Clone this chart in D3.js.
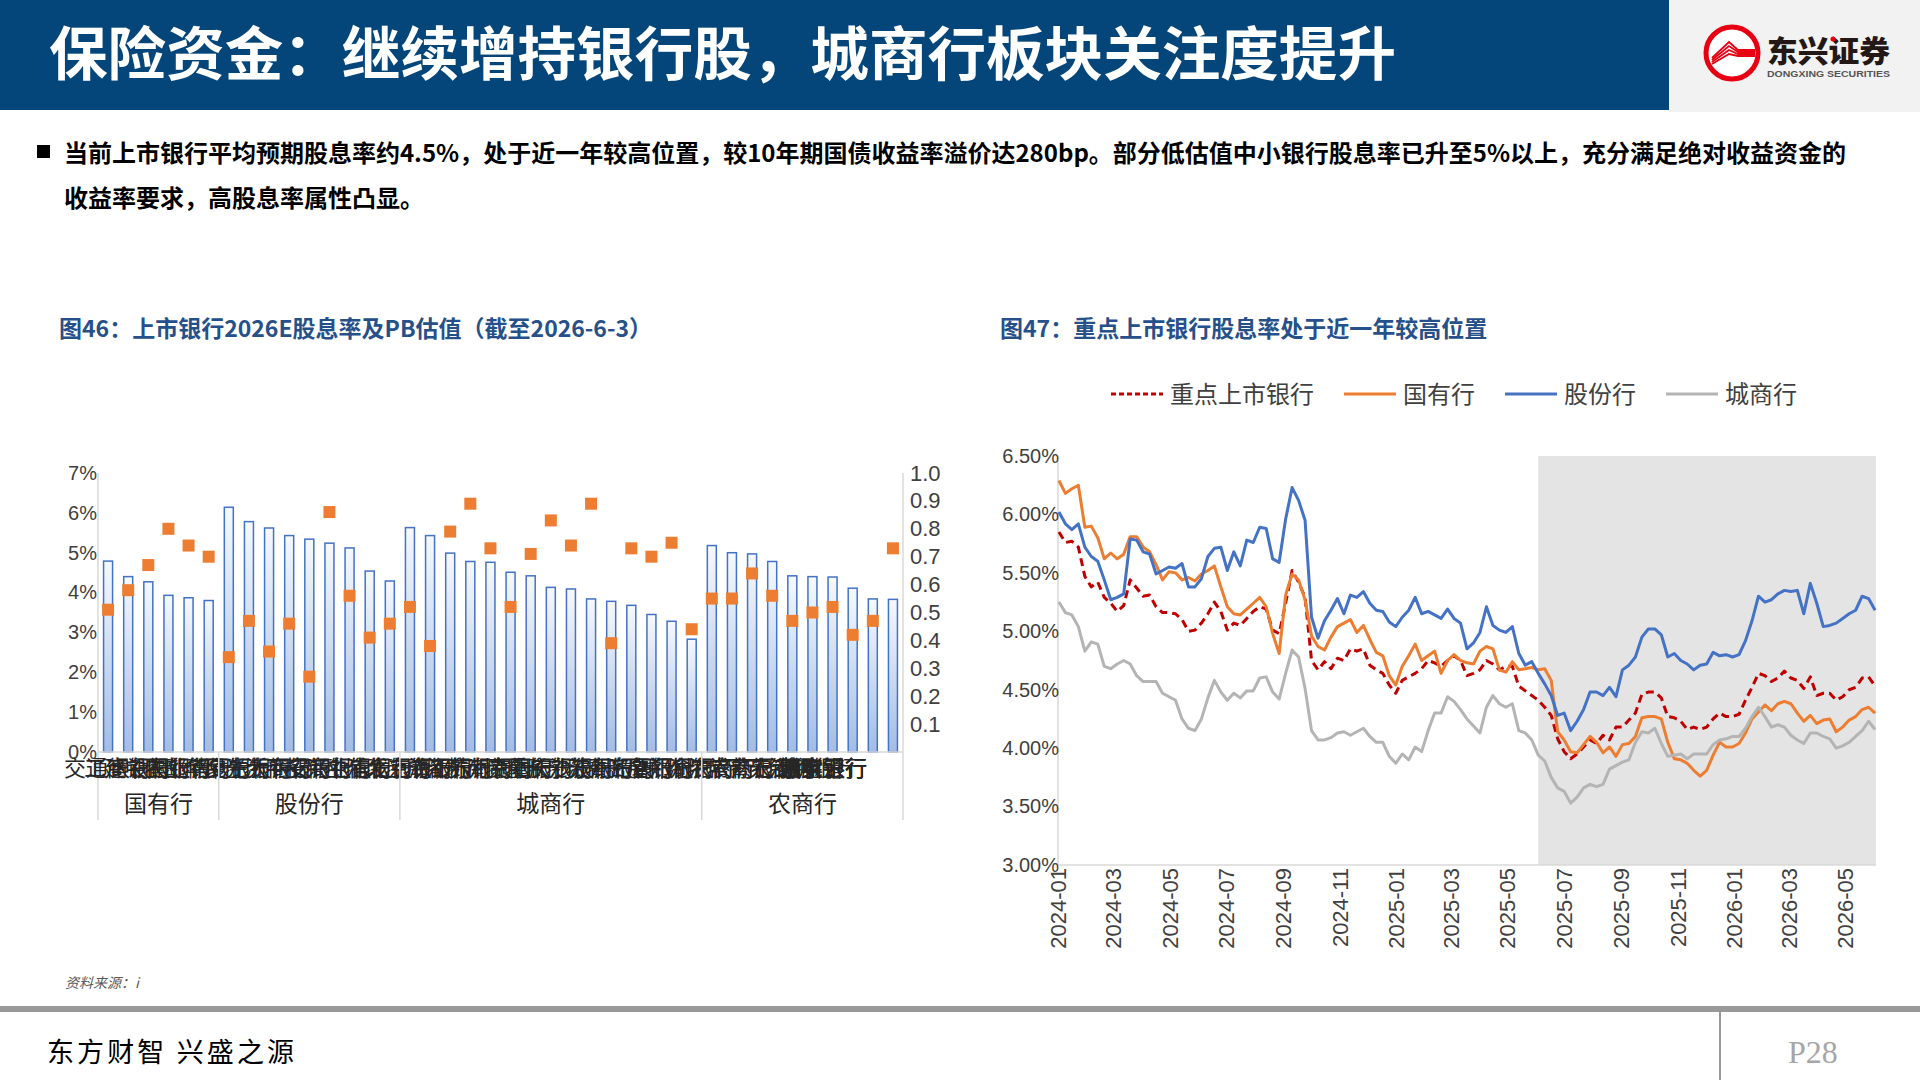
<!DOCTYPE html>
<html>
<head>
<meta charset="utf-8">
<script src="https://cdn.jsdelivr.net/npm/d3@7"></script>
<style>
  body { margin: 0; background: #fff; }
  svg { display: block; }
</style>
</head>
<body>
<svg id="page" width="1920" height="1080"></svg>
<script>
// ---- left chart: 2026E dividend yield (bars, left axis) and PB (squares, right axis)
const groups = ["国有行", "股份行", "城商行", "农商行"];
const groupSizes = [6, 9, 15, 10];
const banks = [
  "交通银行", "工商银行", "建设银行", "中国银行", "农业银行", "邮储银行",
  "华夏银行", "民生银行", "光大银行", "浙商银行", "平安银行", "招商银行", "兴业银行", "中信银行", "浦发银行",
  "北京银行", "上海银行", "成都银行", "江苏银行", "杭州银行", "南京银行", "贵阳银行", "重庆银行",
  "长沙银行", "宁波银行", "苏州银行", "青岛银行", "齐鲁银行", "厦门银行", "郑州银行",
  "渝农商行", "沪农商行", "常熟银行", "青农商行", "无锡银行", "江阴银行", "张家港行", "苏农银行", "紫金银行", "瑞丰银行"
];
const dividendYield = [
  4.79, 4.40, 4.27, 3.93, 3.87, 3.80,
  6.14, 5.78, 5.62, 5.43, 5.34, 5.24, 5.12, 4.54, 4.29,
  5.63, 5.43, 4.99, 4.78, 4.76, 4.51, 4.42, 4.13, 4.09, 3.84, 3.78, 3.68, 3.45, 3.28, 2.83,
  5.18, 5.00, 4.97, 4.78, 4.42, 4.40, 4.39, 4.11, 3.84, 3.83
];
const pbValue = [
  0.51, 0.58, 0.67, 0.80, 0.74, 0.70,
  0.34, 0.47, 0.36, 0.46, 0.27, 0.86, 0.56, 0.41, 0.46,
  0.52, 0.38, 0.79, 0.89, 0.73, 0.52, 0.71, 0.83, 0.74, 0.89, 0.39, 0.73, 0.70, 0.75, 0.44,
  0.55, 0.55, 0.64, 0.56, 0.47, 0.50, 0.52, 0.42, 0.47, 0.73
];
const yieldTicks = [0, 1, 2, 3, 4, 5, 6, 7];
const pbTicks = [0.1, 0.2, 0.3, 0.4, 0.5, 0.6, 0.7, 0.8, 0.9, 1.0];

// ---- right chart: weekly dividend yield (%) of listed banks
const dates = [
  "2024-01-02","2024-01-09","2024-01-16","2024-01-23","2024-01-30","2024-02-06","2024-02-13","2024-02-20","2024-02-27","2024-03-05",
  "2024-03-12","2024-03-19","2024-03-26","2024-04-02","2024-04-09","2024-04-16","2024-04-23","2024-04-30","2024-05-07","2024-05-14",
  "2024-05-21","2024-05-28","2024-06-04","2024-06-11","2024-06-18","2024-06-25","2024-07-02","2024-07-09","2024-07-16","2024-07-23",
  "2024-07-30","2024-08-06","2024-08-13","2024-08-20","2024-08-27","2024-09-03","2024-09-10","2024-09-17","2024-09-24","2024-10-01",
  "2024-10-08","2024-10-15","2024-10-22","2024-10-29","2024-11-05","2024-11-12","2024-11-19","2024-11-26","2024-12-03","2024-12-10",
  "2024-12-17","2024-12-24","2024-12-31","2025-01-07","2025-01-14","2025-01-21","2025-01-28","2025-02-04","2025-02-11","2025-02-18",
  "2025-02-25","2025-03-04","2025-03-11","2025-03-18","2025-03-25","2025-04-01","2025-04-08","2025-04-15","2025-04-22","2025-04-29",
  "2025-05-06","2025-05-13","2025-05-20","2025-05-27","2025-06-03","2025-06-10","2025-06-17","2025-06-24","2025-07-01","2025-07-08",
  "2025-07-15","2025-07-22","2025-07-29","2025-08-05","2025-08-12","2025-08-19","2025-08-26","2025-09-02","2025-09-09","2025-09-16",
  "2025-09-23","2025-09-30","2025-10-07","2025-10-14","2025-10-21","2025-10-28","2025-11-04","2025-11-11","2025-11-18","2025-11-25",
  "2025-12-02","2025-12-09","2025-12-16","2025-12-23","2025-12-30","2026-01-06","2026-01-13","2026-01-20","2026-01-27","2026-02-03",
  "2026-02-10","2026-02-17","2026-02-24","2026-03-03","2026-03-10","2026-03-17","2026-03-24","2026-03-31","2026-04-07","2026-04-14",
  "2026-04-21","2026-04-28","2026-05-05","2026-05-12","2026-05-19","2026-05-26","2026-06-02"
];
const keyBanks = [
  5.85, 5.76, 5.77, 5.72, 5.47, 5.38, 5.42, 5.29, 5.24, 5.17,
  5.22, 5.44, 5.37, 5.30, 5.31, 5.21, 5.16, 5.16, 5.15, 5.10,
  5.00, 5.01, 5.07, 5.15, 5.25, 5.17, 5.01, 5.07, 5.05, 5.11,
  5.17, 5.21, 5.19, 5.01, 4.98, 5.24, 5.52, 5.42, 5.29, 4.75,
  4.67, 4.74, 4.68, 4.77, 4.75, 4.85, 4.83, 4.85, 4.71, 4.67,
  4.64, 4.54, 4.47, 4.58, 4.61, 4.64, 4.68, 4.75, 4.73, 4.70,
  4.75, 4.79, 4.75, 4.62, 4.64, 4.67, 4.75, 4.72, 4.67, 4.70,
  4.70, 4.53, 4.49, 4.45, 4.41, 4.35, 4.28, 4.08, 3.97, 3.91,
  3.95, 4.01, 4.07, 4.04, 4.11, 4.07, 4.18, 4.18, 4.24, 4.30,
  4.46, 4.48, 4.48, 4.43, 4.27, 4.26, 4.23, 4.16, 4.18, 4.16,
  4.18, 4.25, 4.30, 4.27, 4.27, 4.29, 4.41, 4.52, 4.64, 4.62,
  4.57, 4.60, 4.66, 4.60, 4.58, 4.51, 4.61, 4.45, 4.47, 4.47,
  4.41, 4.44, 4.50, 4.52, 4.60, 4.61, 4.53
];
const stateOwned = [
  6.29, 6.18, 6.22, 6.25, 5.89, 5.90, 5.80, 5.62, 5.67, 5.62,
  5.66, 5.81, 5.81, 5.72, 5.68, 5.57, 5.44, 5.51, 5.50, 5.44,
  5.46, 5.43, 5.49, 5.52, 5.56, 5.38, 5.21, 5.15, 5.14, 5.19,
  5.24, 5.29, 5.21, 4.98, 4.81, 5.31, 5.49, 5.44, 5.27, 4.96,
  4.87, 4.84, 4.95, 5.04, 5.07, 5.10, 4.99, 5.05, 4.93, 4.82,
  4.79, 4.62, 4.54, 4.70, 4.79, 4.89, 4.75, 4.79, 4.83, 4.64,
  4.75, 4.80, 4.75, 4.73, 4.72, 4.83, 4.87, 4.85, 4.67, 4.65,
  4.74, 4.67, 4.68, 4.69, 4.67, 4.68, 4.58, 4.14, 4.07, 3.97,
  3.96, 4.03, 4.10, 4.05, 3.96, 4.01, 3.93, 4.03, 4.04, 4.10,
  4.26, 4.27, 4.27, 4.25, 4.05, 3.91, 3.90, 3.87, 3.81, 3.76,
  3.81, 3.94, 4.05, 4.01, 4.01, 4.04, 4.13, 4.25, 4.31, 4.37,
  4.32, 4.38, 4.40, 4.38, 4.30, 4.23, 4.28, 4.21, 4.24, 4.25,
  4.14, 4.18, 4.24, 4.27, 4.33, 4.35, 4.30
];
const jointStock = [
  6.02, 5.92, 5.87, 5.92, 5.72, 5.64, 5.60, 5.44, 5.27, 5.29,
  5.32, 5.79, 5.78, 5.68, 5.66, 5.49, 5.52, 5.55, 5.54, 5.58,
  5.38, 5.38, 5.45, 5.64, 5.71, 5.72, 5.52, 5.68, 5.56, 5.78,
  5.76, 5.89, 5.88, 5.62, 5.59, 5.96, 6.23, 6.12, 5.95, 5.12,
  4.94, 5.09, 5.18, 5.28, 5.15, 5.31, 5.29, 5.34, 5.24, 5.18,
  5.17, 5.08, 5.04, 5.12, 5.18, 5.29, 5.15, 5.17, 5.14, 5.11,
  5.19, 5.11, 5.07, 4.85, 4.90, 4.99, 5.21, 5.05, 5.01, 4.99,
  5.04, 4.81, 4.71, 4.74, 4.64, 4.55, 4.45, 4.28, 4.30, 4.15,
  4.23, 4.33, 4.48, 4.48, 4.45, 4.52, 4.44, 4.67, 4.71, 4.78,
  4.95, 5.02, 5.02, 4.97, 4.78, 4.81, 4.75, 4.72, 4.67, 4.71,
  4.72, 4.82, 4.79, 4.80, 4.78, 4.80, 4.92, 5.09, 5.30, 5.25,
  5.27, 5.32, 5.35, 5.34, 5.35, 5.15, 5.41, 5.24, 5.04, 5.05,
  5.07, 5.11, 5.15, 5.18, 5.30, 5.28, 5.18
];
const cityBanks = [
  5.25, 5.16, 5.14, 5.04, 4.83, 4.91, 4.89, 4.70, 4.68, 4.72,
  4.75, 4.72, 4.62, 4.57, 4.57, 4.57, 4.47, 4.44, 4.41, 4.25,
  4.17, 4.15, 4.25, 4.43, 4.58, 4.48, 4.41, 4.47, 4.43, 4.49,
  4.49, 4.60, 4.61, 4.48, 4.42, 4.64, 4.84, 4.78, 4.51, 4.15,
  4.07, 4.07, 4.09, 4.13, 4.14, 4.11, 4.14, 4.17, 4.10, 4.05,
  4.05, 3.93, 3.87, 3.95, 3.90, 4.01, 3.97, 4.15, 4.30, 4.30,
  4.44, 4.40, 4.33, 4.25, 4.19, 4.13, 4.35, 4.45, 4.38, 4.35,
  4.38, 4.15, 4.13, 4.07, 3.94, 3.89, 3.75, 3.66, 3.63, 3.53,
  3.58, 3.66, 3.69, 3.67, 3.69, 3.82, 3.85, 3.88, 3.90, 4.05,
  4.14, 4.13, 4.17, 4.04, 3.93, 3.94, 3.95, 3.91, 3.95, 3.95,
  3.95, 4.03, 4.07, 4.08, 4.10, 4.10, 4.17, 4.27, 4.35, 4.27,
  4.18, 4.20, 4.18, 4.11, 4.07, 4.04, 4.13, 4.13, 4.10, 4.08,
  4.00, 4.02, 4.05, 4.10, 4.15, 4.23, 4.16
];
const seriesNames = ["重点上市银行", "国有行", "股份行", "城商行"];
const rateTicks = [3.0, 3.5, 4.0, 4.5, 5.0, 5.5, 6.0, 6.5];
const dateStart = "2024-01-01", dateEnd = "2026-06-03";
const shadeStart = "2025-06-03", shadeEnd = "2026-06-03";

const CJK = "'Noto Sans CJK SC', 'Noto Sans', sans-serif";
const LATIN = "'Liberation Sans', Arial, 'Noto Sans CJK SC', sans-serif";
const parseDate = d3.timeParse("%Y-%m-%d");

const svg = d3.select("#page");
const defs = svg.append("defs");
const grad = defs.append("linearGradient").attr("id", "barFill")
  .attr("x1", 0).attr("y1", 0).attr("x2", 0).attr("y2", 1);
grad.append("stop").attr("offset", "0%").attr("stop-color", "#F6F9FD");
grad.append("stop").attr("offset", "100%").attr("stop-color", "#A3BCE4");

// ---------- page header ----------
svg.append("rect").attr("x", 0).attr("y", 0).attr("width", 1669).attr("height", 110).attr("fill", "#04457A");
svg.append("rect").attr("x", 1669).attr("y", 0).attr("width", 251).attr("height", 112).attr("fill", "#F2F2F2");
svg.append("text").attr("x", 49).attr("y", 75).attr("textLength", 1347).attr("lengthAdjust", "spacingAndGlyphs")
  .attr("font-family", CJK).attr("font-weight", 700).attr("font-size", 58).attr("fill", "#fff")
  .text("保险资金：继续增持银行股，城商行板块关注度提升");

// logo
const logo = svg.append("g");
logo.append("circle").attr("cx", 1732).attr("cy", 53).attr("r", 26)
  .attr("fill", "#fff").attr("stroke", "#E60012").attr("stroke-width", 5);
[0, 4, 8, 12].forEach(o => {
  logo.append("polyline")
    .attr("points", `${1712},${58 + o / 2} ${1729},${42 + o} ${1738},${50 + o / 2} ${1755},${50 + o / 2}`)
    .attr("fill", "none").attr("stroke", "#E60012").attr("stroke-width", 1.8);
});
logo.append("text").attr("x", 1767).attr("y", 62).attr("textLength", 123).attr("lengthAdjust", "spacingAndGlyphs")
  .attr("font-family", CJK).attr("font-weight", 900).attr("font-size", 30).attr("fill", "#231815").text("东兴证券");
logo.append("circle").attr("cx", 1833).attr("cy", 39).attr("r", 2.5).attr("fill", "#E60012");
logo.append("text").attr("x", 1767).attr("y", 77).attr("textLength", 123).attr("lengthAdjust", "spacingAndGlyphs")
  .attr("font-family", LATIN).attr("font-weight", 700).attr("font-size", 9.5).attr("fill", "#555").text("DONGXING SECURITIES");

// bullet text
svg.append("rect").attr("x", 37).attr("y", 145).attr("width", 13).attr("height", 13).attr("fill", "#000");
svg.append("text").attr("x", 64).attr("y", 162).attr("textLength", 1782).attr("lengthAdjust", "spacing")
  .attr("font-family", CJK).attr("font-weight", 700).attr("font-size", 24).attr("fill", "#000")
  .text("当前上市银行平均预期股息率约4.5%，处于近一年较高位置，较10年期国债收益率溢价达280bp。部分低估值中小银行股息率已升至5%以上，充分满足绝对收益资金的");
svg.append("text").attr("x", 64).attr("y", 207)
  .attr("font-family", CJK).attr("font-weight", 700).attr("font-size", 24).attr("fill", "#000")
  .text("收益率要求，高股息率属性凸显。");

// chart titles
svg.append("text").attr("x", 59).attr("y", 337)
  .attr("font-family", CJK).attr("font-weight", 700).attr("font-size", 23).attr("fill", "#25508A")
  .text("图46：上市银行2026E股息率及PB估值（截至2026-6-3）");
svg.append("text").attr("x", 1000).attr("y", 337)
  .attr("font-family", CJK).attr("font-weight", 700).attr("font-size", 23).attr("fill", "#25508A")
  .text("图47：重点上市银行股息率处于近一年较高位置");

// ---------- left chart ----------
const bp = { left: 98, right: 903, top: 473, bottom: 752, groupBottom: 820 };
const xBank = d3.scaleBand().domain(banks).range([bp.left, bp.right]);
const yYield = d3.scaleLinear().domain([0, 7]).range([bp.bottom, bp.top]);
const yPB = d3.scaleLinear().domain([0, 1]).range([bp.bottom, bp.top]);
const bw = xBank.bandwidth();
const barW = 9, markSize = 12;
const gridColor = "#D9D9D9";

const gL = svg.append("g");
gL.selectAll("rect.bar").data(banks).join("rect").attr("class", "bar")
  .attr("x", d => xBank(d) + bw / 2 - barW / 2)
  .attr("y", (d, i) => yYield(dividendYield[i]))
  .attr("width", barW)
  .attr("height", (d, i) => yYield(0) - yYield(dividendYield[i]))
  .attr("fill", "url(#barFill)").attr("stroke", "#4472C4").attr("stroke-width", 1.5);

gL.selectAll("rect.pb").data(banks).join("rect").attr("class", "pb")
  .attr("x", d => xBank(d) + bw / 2 - markSize / 2)
  .attr("y", (d, i) => yPB(pbValue[i]) - markSize / 2)
  .attr("width", markSize).attr("height", markSize)
  .attr("fill", "#ED7D31");

// frame lines
gL.append("line").attr("x1", bp.left).attr("x2", bp.right).attr("y1", bp.bottom).attr("y2", bp.bottom)
  .attr("stroke", gridColor).attr("stroke-width", 1.5);
gL.append("line").attr("x1", bp.left).attr("x2", bp.left).attr("y1", bp.top).attr("y2", bp.groupBottom)
  .attr("stroke", gridColor).attr("stroke-width", 1.5);
gL.append("line").attr("x1", bp.right).attr("x2", bp.right).attr("y1", bp.top).attr("y2", bp.groupBottom)
  .attr("stroke", gridColor).attr("stroke-width", 1.5);

const axL = gL.append("g").attr("transform", `translate(${bp.left},0)`)
  .call(d3.axisLeft(yYield).tickValues(yieldTicks).tickFormat(d => d + "%").tickSize(0).tickPadding(1));
axL.select(".domain").remove();
axL.selectAll("text").attr("font-family", LATIN).attr("font-size", 20).attr("fill", "#404040");

const axR = gL.append("g").attr("transform", `translate(${bp.right},0)`)
  .call(d3.axisRight(yPB).tickValues(pbTicks).tickFormat(d3.format(".1f")).tickSize(0).tickPadding(7));
axR.select(".domain").remove();
axR.selectAll("text").attr("font-family", LATIN).attr("font-size", 22).attr("fill", "#404040");

// bank names (they overlap in the original too)
const labelLimit = 867;
gL.selectAll("text.bank").data(banks).join("text").attr("class", "bank")
  .attr("x", d => xBank(d) + bw / 2).attr("y", 776)
  .attr("text-anchor", "middle").attr("font-family", CJK).attr("font-size", 22).attr("fill", "#262626")
  .text(d => d)
  .each(function () {
    const w = this.getComputedTextLength();
    const x = +this.getAttribute("x");
    if (x + w / 2 > labelLimit) this.setAttribute("x", labelLimit - w / 2);
  });

// group separators and group names
let start = 0;
groups.forEach((g, gi) => {
  const first = banks[start], last = banks[start + groupSizes[gi] - 1];
  const x0 = xBank(first), x1 = xBank(last) + bw;
  if (gi > 0) {
    gL.append("line").attr("x1", x0).attr("x2", x0).attr("y1", bp.bottom).attr("y2", bp.groupBottom)
      .attr("stroke", gridColor).attr("stroke-width", 1.5);
  }
  gL.append("text").attr("x", (x0 + x1) / 2).attr("y", 812)
    .attr("text-anchor", "middle").attr("font-family", CJK).attr("font-size", 23).attr("fill", "#262626")
    .text(g);
  start += groupSizes[gi];
});

// ---------- right chart ----------
const lp = { left: 1058, right: 1876, top: 456, bottom: 865 };
const xDate = d3.scaleTime().domain([parseDate(dateStart), parseDate(dateEnd)]).range([lp.left, lp.right]);
const yRate = d3.scaleLinear().domain([3.0, 6.5]).range([lp.bottom, lp.top]);
const gR = svg.append("g");

gR.append("rect")
  .attr("x", xDate(parseDate(shadeStart))).attr("y", yRate(6.5))
  .attr("width", xDate(parseDate(shadeEnd)) - xDate(parseDate(shadeStart)))
  .attr("height", yRate(3.0) - yRate(6.5))
  .attr("fill", "#E4E4E4");

gR.append("line").attr("x1", lp.left).attr("x2", lp.left).attr("y1", lp.top).attr("y2", lp.bottom)
  .attr("stroke", gridColor).attr("stroke-width", 1.5);
gR.append("line").attr("x1", lp.left).attr("x2", lp.right).attr("y1", lp.bottom).attr("y2", lp.bottom)
  .attr("stroke", gridColor).attr("stroke-width", 1.5);

const parsedDates = dates.map(parseDate);
const series = [
  { name: seriesNames[0], values: keyBanks, color: "#C00000", dash: "8,5" },
  { name: seriesNames[1], values: stateOwned, color: "#ED7D31", dash: null },
  { name: seriesNames[2], values: jointStock, color: "#4472C4", dash: null },
  { name: seriesNames[3], values: cityBanks, color: "#B4B4B4", dash: null }
];
const line = d3.line().x((d, i) => xDate(parsedDates[i])).y(d => yRate(d));

// draw in series order, last one on top (like the original)
series.forEach(s => {
  gR.append("path").datum(s.values)
    .attr("d", line)
    .attr("fill", "none").attr("stroke", s.color).attr("stroke-width", 3)
    .attr("stroke-linejoin", "round")
    .attr("stroke-dasharray", s.dash);
});

const axY = gR.append("g").attr("transform", `translate(${lp.left},0)`)
  .call(d3.axisLeft(yRate).tickValues(rateTicks).tickFormat(d => d.toFixed(2) + "%").tickSize(0).tickPadding(-1));
axY.select(".domain").remove();
axY.selectAll("text").attr("font-family", LATIN).attr("font-size", 20).attr("fill", "#404040");

const monthTicks = d3.timeMonth.every(2).range(parseDate(dateStart), parseDate(dateEnd));
gR.selectAll("text.date").data(monthTicks).join("text").attr("class", "date")
  .attr("transform", d => `translate(${xDate(d)},${lp.bottom + 3}) rotate(-90)`)
  .attr("text-anchor", "end").attr("dy", "0.35em")
  .attr("font-family", LATIN).attr("font-size", 22).attr("fill", "#404040")
  .text(d3.timeFormat("%Y-%m"));

// legend
let lx = 1111;
const ly = 394;
series.forEach(s => {
  gR.append("line").attr("x1", lx).attr("x2", lx + 52).attr("y1", ly).attr("y2", ly)
    .attr("stroke", s.color).attr("stroke-width", 3).attr("stroke-dasharray", s.dash ? "5,3" : null);
  const t = gR.append("text").attr("x", lx + 59).attr("y", ly + 9)
    .attr("font-family", CJK).attr("font-size", 24).attr("fill", "#404040").text(s.name);
  lx += 59 + t.node().getComputedTextLength() + 30;
});

// ---------- footer ----------
svg.append("text").attr("x", 65).attr("y", 988)
  .attr("font-family", CJK).attr("font-style", "italic").attr("font-size", 14).attr("fill", "#595959")
  .text("资料来源：i");
svg.append("rect").attr("x", 0).attr("y", 1006).attr("width", 1920).attr("height", 6).attr("fill", "#999");
svg.append("line").attr("x1", 1720).attr("x2", 1720).attr("y1", 1012).attr("y2", 1080)
  .attr("stroke", "#999").attr("stroke-width", 2);
svg.append("text").attr("x", 47).attr("y", 1062).attr("textLength", 247).attr("lengthAdjust", "spacing")
  .attr("font-family", CJK).attr("font-size", 27).attr("fill", "#000").text("东方财智 兴盛之源");
svg.append("text").attr("x", 1788).attr("y", 1063)
  .attr("font-family", "'Liberation Serif', 'DejaVu Serif', serif").attr("font-size", 32).attr("fill", "#A6A6A6")
  .text("P28");
</script>
</body>
</html>
